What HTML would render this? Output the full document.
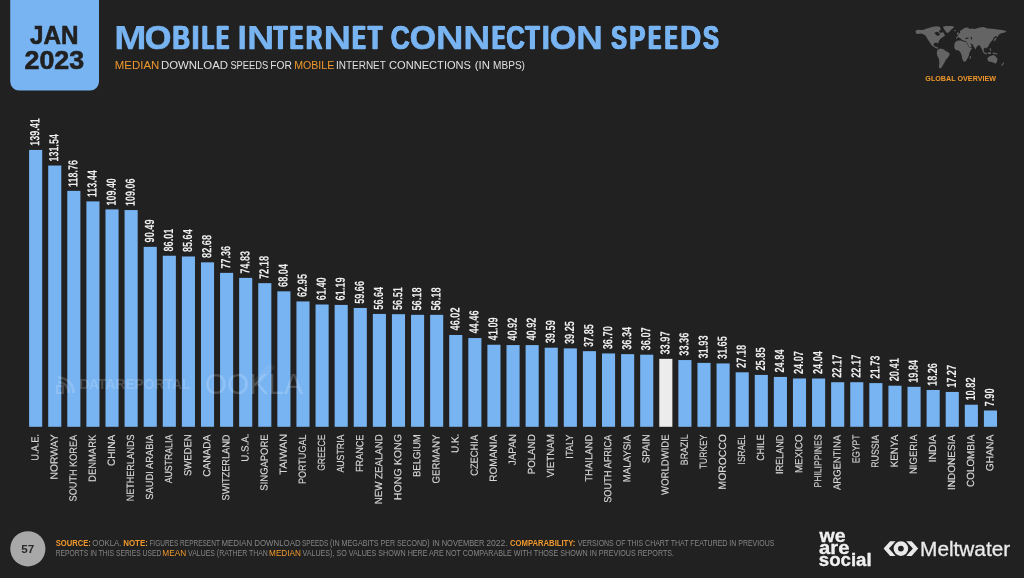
<!DOCTYPE html>
<html><head><meta charset="utf-8"><title>Mobile Internet Connection Speeds</title>
<style>
html,body{margin:0;padding:0;}
body{width:1024px;height:578px;background:#212121;overflow:hidden;position:relative;font-family:"Liberation Sans",sans-serif;}
#root{position:absolute;left:0;top:0;width:1024px;height:578px;will-change:transform;}
.a{position:absolute;white-space:nowrap;line-height:1;transform-origin:0 0;}
.bar{position:absolute;background:#78b4f2;width:13.1px;}
.r{position:absolute;left:0;top:0;width:0;height:0;transform-origin:0 0;}
.r span{position:absolute;white-space:nowrap;line-height:1;top:0;}
.lab span{right:0;transform-origin:100% 50%;color:#d8d8d8;font-size:10.3px;-webkit-text-stroke:0.15px #d8d8d8;}
.val span{left:0;transform-origin:0 50%;color:#f0f0f0;font-size:13.3px;font-weight:bold;}
</style></head><body><div id="root">
<svg class="a" style="left:0;top:0" width="1024" height="578" viewBox="0 0 1024 578">
<path d="M10.2 0H99V81.6A9 9 0 0 1 90 90.6H19.2A9 9 0 0 1 10.2 81.6Z" fill="#78b4f2"/>
<g fill="#78b4f2">
<rect x="29.10" y="149.94" width="13.1" height="276.86"/>
<rect x="48.20" y="165.53" width="13.1" height="261.27"/>
<rect x="67.29" y="190.85" width="13.1" height="235.95"/>
<rect x="86.39" y="201.39" width="13.1" height="225.41"/>
<rect x="105.48" y="209.40" width="13.1" height="217.40"/>
<rect x="124.58" y="210.07" width="13.1" height="216.73"/>
<rect x="143.68" y="246.86" width="13.1" height="179.94"/>
<rect x="162.77" y="255.74" width="13.1" height="171.06"/>
<rect x="181.87" y="256.47" width="13.1" height="170.33"/>
<rect x="200.96" y="262.34" width="13.1" height="164.46"/>
<rect x="220.06" y="272.88" width="13.1" height="153.92"/>
<rect x="239.16" y="277.89" width="13.1" height="148.91"/>
<rect x="258.25" y="283.14" width="13.1" height="143.66"/>
<rect x="277.35" y="291.34" width="13.1" height="135.46"/>
<rect x="296.44" y="301.43" width="13.1" height="125.37"/>
<rect x="315.54" y="304.50" width="13.1" height="122.30"/>
<rect x="334.64" y="304.91" width="13.1" height="121.89"/>
<rect x="353.73" y="307.95" width="13.1" height="118.85"/>
<rect x="372.83" y="313.93" width="13.1" height="112.87"/>
<rect x="391.92" y="314.19" width="13.1" height="112.61"/>
<rect x="411.02" y="314.84" width="13.1" height="111.96"/>
<rect x="430.12" y="314.84" width="13.1" height="111.96"/>
<rect x="449.21" y="334.97" width="13.1" height="91.83"/>
<rect x="468.31" y="338.06" width="13.1" height="88.74"/>
<rect x="487.40" y="344.74" width="13.1" height="82.06"/>
<rect x="506.50" y="345.08" width="13.1" height="81.72"/>
<rect x="525.60" y="345.08" width="13.1" height="81.72"/>
<rect x="544.69" y="347.71" width="13.1" height="79.09"/>
<rect x="563.79" y="348.38" width="13.1" height="78.42"/>
<rect x="582.88" y="351.16" width="13.1" height="75.64"/>
<rect x="601.98" y="353.44" width="13.1" height="73.36"/>
<rect x="621.08" y="354.15" width="13.1" height="72.65"/>
<rect x="640.17" y="354.68" width="13.1" height="72.12"/>
<rect x="659.27" y="358.85" width="13.1" height="67.95" fill="#ececec"/>
<rect x="678.36" y="360.05" width="13.1" height="66.75"/>
<rect x="697.46" y="362.89" width="13.1" height="63.91"/>
<rect x="716.56" y="363.44" width="13.1" height="63.36"/>
<rect x="735.65" y="372.30" width="13.1" height="54.50"/>
<rect x="754.75" y="374.93" width="13.1" height="51.87"/>
<rect x="773.84" y="376.93" width="13.1" height="49.87"/>
<rect x="792.94" y="378.46" width="13.1" height="48.34"/>
<rect x="812.04" y="378.52" width="13.1" height="48.28"/>
<rect x="831.13" y="382.22" width="13.1" height="44.58"/>
<rect x="850.23" y="382.22" width="13.1" height="44.58"/>
<rect x="869.32" y="383.10" width="13.1" height="43.70"/>
<rect x="888.42" y="385.71" width="13.1" height="41.09"/>
<rect x="907.52" y="386.84" width="13.1" height="39.96"/>
<rect x="926.61" y="389.97" width="13.1" height="36.83"/>
<rect x="945.71" y="391.93" width="13.1" height="34.87"/>
<rect x="964.80" y="404.71" width="13.1" height="22.09"/>
<rect x="983.90" y="410.50" width="13.1" height="16.30"/>
</g>
<circle cx="27.85" cy="548.8" r="17.6" fill="#a8a8a8"/>
</svg>
<svg class="a" style="left:55.5px;top:376.3px;opacity:0.17" width="19" height="19" viewBox="0 0 19 19"><path d="M2 6 A11 11 0 0 1 13 17" fill="none" stroke="#fff" stroke-width="2.6"/><path d="M2 1.5 A15.5 15.5 0 0 1 17.5 17" fill="none" stroke="#fff" stroke-width="2.6"/><rect x="1" y="10" width="6" height="7" fill="none" stroke="#fff" stroke-width="2"/></svg>
<svg class="a" style="left:880px;top:538px" width="42" height="22" viewBox="-21 -11 42 22"><g transform="translate(-0.1,-0.4)" fill="#e9e9e9">
<polygon points="-17.3,0 -10.8,-7.45 -5.3,-7.45 -12.0,0 -5.3,7.45 -10.8,7.45"/>
<polygon points="17.3,0 10.8,-7.45 5.3,-7.45 12.0,0 5.3,7.45 10.8,7.45"/>
<circle r="8.6" fill="#212121"/>
<circle r="5.1" stroke-width="4.4" fill="none" stroke="#e9e9e9"/>
</g></svg>
<svg class="a" style="left:910px;top:20px" width="102" height="54" viewBox="0 0 102 54"><g fill="#646464"><polygon points="5.5,11.0 7.5,9.8 12.9,10.0 16.9,8.5 21.9,7.0 25.9,6.2 29.9,6.8 31.9,9.0 29.9,10.0 28.9,11.5 30.9,12.9 32.9,12.0 34.4,13.9 34.9,15.9 32.9,16.9 30.9,18.4 29.4,19.9 28.4,22.4 27.4,23.4 26.4,22.4 24.4,22.9 23.4,24.4 24.9,26.4 26.9,26.9 28.4,27.9 27.4,28.7 25.4,27.9 23.4,26.4 21.4,24.9 19.9,22.4 18.4,20.4 16.9,17.9 15.9,15.9 13.9,14.4 11.0,13.4 8.0,13.9 6.0,13.4"/><polygon points="32.9,6.8 35.9,6.0 41.8,6.0 44.3,6.8 42.8,8.5 40.8,10.0 38.8,12.5 36.9,12.9 35.4,11.0 33.9,9.0"/><polygon points="27.4,29.9 29.9,28.4 32.9,28.9 35.9,30.9 39.3,32.9 39.6,34.9 37.8,37.8 35.9,39.8 34.4,42.8 32.9,45.3 31.4,47.8 29.9,48.8 28.9,46.8 29.4,42.8 28.9,38.8 27.4,35.9 26.7,32.9"/><polygon points="46.0,18.9 46.3,16.9 47.8,15.9 48.8,13.9 50.3,12.5 49.8,11.0 51.8,10.0 54.3,8.0 57.8,7.5 59.8,9.0 61.8,8.5 64.7,9.0 69.7,7.5 73.7,7.0 77.7,8.5 82.7,8.8 87.6,9.5 92.6,10.0 96.6,11.2 94.6,12.5 90.6,13.4 88.6,14.9 87.6,16.9 85.7,15.9 83.7,17.4 82.7,19.9 81.2,21.4 79.7,23.4 78.2,26.4 76.2,28.4 74.7,27.4 73.5,29.4 74.5,33.4 73.2,32.4 71.7,28.9 70.2,26.1 68.7,24.9 66.9,26.4 65.5,29.4 63.7,26.4 62.3,23.9 59.8,23.4 61.8,25.4 60.6,27.7 58.8,26.4 57.3,22.9 56.3,21.4 53.8,20.4 51.8,19.9 50.8,18.4 49.3,17.9 48.8,16.9 47.8,17.4"/><polygon points="44.3,24.4 45.3,21.9 47.8,20.4 50.8,20.4 53.3,21.4 56.3,21.9 57.8,24.9 59.3,27.4 62.3,27.9 60.8,29.9 59.3,32.9 58.8,35.9 57.3,38.8 55.8,41.3 53.8,41.8 52.3,39.3 51.8,35.9 50.8,32.9 48.8,30.4 45.8,29.9 44.3,27.9"/><polygon points="59.8,36.4 61.0,35.9 60.8,38.3 59.6,39.3"/><polygon points="77.2,38.3 79.2,36.4 81.7,35.4 83.7,34.9 85.7,36.4 87.5,38.8 87.2,41.3 85.7,43.8 83.7,42.8 80.7,41.8 78.2,41.6"/><polygon points="91.1,45.3 93.6,42.3 94.1,43.3 92.1,46.0"/><polygon points="74.2,31.9 77.2,33.4 76.7,34.4 74.2,33.4"/><polygon points="77.7,32.4 80.7,31.9 80.9,33.9 78.2,34.1"/><polygon points="82.7,32.4 87.6,33.4 87.2,34.4 82.7,33.7"/><polygon points="79.7,27.9 80.9,28.4 81.2,30.9 80.0,30.4"/><polygon points="84.2,18.9 85.7,17.4 86.7,17.9 85.2,20.4 83.7,21.4"/><polygon points="46.8,12.9 48.3,12.0 48.8,14.4 47.3,14.9"/><polygon points="43.8,10.5 45.8,10.0 46.0,11.0 44.3,11.3"/></g><g fill="#212121"><polygon points="24.4,12.7 26.9,11.8 29.4,12.7 29.7,14.9 27.9,15.9 26.1,14.9"/><polygon points="55.1,17.9 58.3,17.5 58.6,18.7 55.4,18.9"/><polygon points="60.8,16.7 62.0,16.9 62.1,19.4 61.0,19.5"/><polygon points="29.9,7.2 32.4,7.0 32.9,9.5 31.1,10.0"/></g></svg>
<svg class="a" style="left:250px;top:360px;opacity:0.15" width="30" height="30" viewBox="250 360 30 30"><g stroke="#fff" stroke-width="0.9" fill="none"><path d="M253.5 381.5L270 364M253.5 384L272 364.5M253.5 386.5L273.5 365.5M255.5 387L274.5 367"/></g></svg>
<div class="a" style="left:0;top:0;font-size:25.3px;font-weight:bold;color:#212121;transform:translate(30.06px,23.00px) rotate(0deg) scaleX(0.9571);-webkit-text-stroke:0.6px #212121;">JAN</div>
<div class="a" style="left:0;top:0;font-size:25.3px;font-weight:bold;color:#212121;transform:translate(24.51px,48.00px) rotate(0deg) scaleX(1.0600);-webkit-text-stroke:0.6px #212121;">2023</div>
<div class="a" style="left:0;top:0;font-size:33.6px;font-weight:bold;color:#78b4f2;transform:translate(114.28px,21.00px) rotate(0deg) scaleX(1.1549);-webkit-text-stroke:0.25px #78b4f2;">M</div>
<div class="a" style="left:0;top:0;font-size:33.6px;font-weight:bold;color:#78b4f2;transform:translate(144.66px,21.00px) rotate(0deg) scaleX(1.0191);-webkit-text-stroke:0.7px #78b4f2;">O</div>
<div class="a" style="left:0;top:0;font-size:33.6px;font-weight:bold;color:#78b4f2;transform:translate(172.71px,21.00px) rotate(0deg) scaleX(0.7082);-webkit-text-stroke:0.7px #78b4f2;text-shadow:1.22px 0 0 #78b4f2,-1.22px 0 0 #78b4f2;">B</div>
<div class="a" style="left:0;top:0;font-size:33.6px;font-weight:bold;color:#78b4f2;transform:translate(190.98px,21.00px) rotate(0deg) scaleX(0.9709);-webkit-text-stroke:0.7px #78b4f2;">I</div>
<div class="a" style="left:0;top:0;font-size:33.6px;font-weight:bold;color:#78b4f2;transform:translate(202.20px,21.00px) rotate(0deg) scaleX(0.5664);-webkit-text-stroke:0.7px #78b4f2;text-shadow:1.93px 0 0 #78b4f2,-1.93px 0 0 #78b4f2;">L</div>
<div class="a" style="left:0;top:0;font-size:33.6px;font-weight:bold;color:#78b4f2;transform:translate(216.65px,21.00px) rotate(0deg) scaleX(0.5400);-webkit-text-stroke:0.7px #78b4f2;text-shadow:2.20px 0 0 #78b4f2,-2.20px 0 0 #78b4f2;">E</div>
<div class="a" style="left:0;top:0;font-size:33.6px;font-weight:bold;color:#78b4f2;transform:translate(237.85px,21.00px) rotate(0deg) scaleX(0.9493);-webkit-text-stroke:0.7px #78b4f2;">I</div>
<div class="a" style="left:0;top:0;font-size:33.6px;font-weight:bold;color:#78b4f2;transform:translate(246.88px,21.00px) rotate(0deg) scaleX(1.1307);-webkit-text-stroke:0.25px #78b4f2;">N</div>
<div class="a" style="left:0;top:0;font-size:33.6px;font-weight:bold;color:#78b4f2;transform:translate(273.75px,21.00px) rotate(0deg) scaleX(0.6541);-webkit-text-stroke:0.7px #78b4f2;text-shadow:1.37px 0 0 #78b4f2,-1.37px 0 0 #78b4f2;">T</div>
<div class="a" style="left:0;top:0;font-size:33.6px;font-weight:bold;color:#78b4f2;transform:translate(290.24px,21.00px) rotate(0deg) scaleX(0.5590);-webkit-text-stroke:0.7px #78b4f2;text-shadow:2.20px 0 0 #78b4f2,-2.20px 0 0 #78b4f2;">E</div>
<div class="a" style="left:0;top:0;font-size:33.6px;font-weight:bold;color:#78b4f2;transform:translate(306.05px,21.00px) rotate(0deg) scaleX(0.6604);-webkit-text-stroke:0.7px #78b4f2;text-shadow:1.38px 0 0 #78b4f2,-1.38px 0 0 #78b4f2;">R</div>
<div class="a" style="left:0;top:0;font-size:33.6px;font-weight:bold;color:#78b4f2;transform:translate(323.39px,21.00px) rotate(0deg) scaleX(1.1394);-webkit-text-stroke:0.25px #78b4f2;">N</div>
<div class="a" style="left:0;top:0;font-size:33.6px;font-weight:bold;color:#78b4f2;transform:translate(352.68px,21.00px) rotate(0deg) scaleX(0.5592);-webkit-text-stroke:0.7px #78b4f2;text-shadow:2.20px 0 0 #78b4f2,-2.20px 0 0 #78b4f2;">E</div>
<div class="a" style="left:0;top:0;font-size:33.6px;font-weight:bold;color:#78b4f2;transform:translate(367.97px,21.00px) rotate(0deg) scaleX(0.6877);-webkit-text-stroke:0.7px #78b4f2;text-shadow:1.33px 0 0 #78b4f2,-1.33px 0 0 #78b4f2;">T</div>
<div class="a" style="left:0;top:0;font-size:33.6px;font-weight:bold;color:#78b4f2;transform:translate(390.82px,21.00px) rotate(0deg) scaleX(0.7812);-webkit-text-stroke:0.7px #78b4f2;text-shadow:0.62px 0 0 #78b4f2,-0.62px 0 0 #78b4f2;">C</div>
<div class="a" style="left:0;top:0;font-size:33.6px;font-weight:bold;color:#78b4f2;transform:translate(409.77px,21.00px) rotate(0deg) scaleX(1.0043);-webkit-text-stroke:0.7px #78b4f2;">O</div>
<div class="a" style="left:0;top:0;font-size:33.6px;font-weight:bold;color:#78b4f2;transform:translate(435.83px,21.00px) rotate(0deg) scaleX(1.1472);-webkit-text-stroke:0.25px #78b4f2;">N</div>
<div class="a" style="left:0;top:0;font-size:33.6px;font-weight:bold;color:#78b4f2;transform:translate(463.13px,21.00px) rotate(0deg) scaleX(1.1203);-webkit-text-stroke:0.25px #78b4f2;">N</div>
<div class="a" style="left:0;top:0;font-size:33.6px;font-weight:bold;color:#78b4f2;transform:translate(492.56px,21.00px) rotate(0deg) scaleX(0.5500);-webkit-text-stroke:0.7px #78b4f2;text-shadow:2.20px 0 0 #78b4f2,-2.20px 0 0 #78b4f2;">E</div>
<div class="a" style="left:0;top:0;font-size:33.6px;font-weight:bold;color:#78b4f2;transform:translate(506.28px,21.00px) rotate(0deg) scaleX(0.7667);-webkit-text-stroke:0.7px #78b4f2;text-shadow:0.63px 0 0 #78b4f2,-0.63px 0 0 #78b4f2;">C</div>
<div class="a" style="left:0;top:0;font-size:33.6px;font-weight:bold;color:#78b4f2;transform:translate(525.39px,21.00px) rotate(0deg) scaleX(0.6878);-webkit-text-stroke:0.7px #78b4f2;text-shadow:1.34px 0 0 #78b4f2,-1.34px 0 0 #78b4f2;">T</div>
<div class="a" style="left:0;top:0;font-size:33.6px;font-weight:bold;color:#78b4f2;transform:translate(541.62px,21.00px) rotate(0deg) scaleX(0.9230);-webkit-text-stroke:0.7px #78b4f2;">I</div>
<div class="a" style="left:0;top:0;font-size:33.6px;font-weight:bold;color:#78b4f2;transform:translate(549.66px,21.00px) rotate(0deg) scaleX(1.0191);-webkit-text-stroke:0.7px #78b4f2;">O</div>
<div class="a" style="left:0;top:0;font-size:33.6px;font-weight:bold;color:#78b4f2;transform:translate(576.11px,21.00px) rotate(0deg) scaleX(1.1156);-webkit-text-stroke:0.25px #78b4f2;">N</div>
<div class="a" style="left:0;top:0;font-size:33.6px;font-weight:bold;color:#78b4f2;transform:translate(611.33px,21.00px) rotate(0deg) scaleX(0.6886);-webkit-text-stroke:0.7px #78b4f2;text-shadow:1.18px 0 0 #78b4f2,-1.18px 0 0 #78b4f2;">S</div>
<div class="a" style="left:0;top:0;font-size:33.6px;font-weight:bold;color:#78b4f2;transform:translate(629.51px,21.00px) rotate(0deg) scaleX(0.6912);-webkit-text-stroke:0.7px #78b4f2;text-shadow:1.28px 0 0 #78b4f2,-1.28px 0 0 #78b4f2;">P</div>
<div class="a" style="left:0;top:0;font-size:33.6px;font-weight:bold;color:#78b4f2;transform:translate(648.65px,21.00px) rotate(0deg) scaleX(0.5400);-webkit-text-stroke:0.7px #78b4f2;text-shadow:2.20px 0 0 #78b4f2,-2.20px 0 0 #78b4f2;">E</div>
<div class="a" style="left:0;top:0;font-size:33.6px;font-weight:bold;color:#78b4f2;transform:translate(665.18px,21.00px) rotate(0deg) scaleX(0.5370);-webkit-text-stroke:0.7px #78b4f2;text-shadow:2.20px 0 0 #78b4f2,-2.20px 0 0 #78b4f2;">E</div>
<div class="a" style="left:0;top:0;font-size:33.6px;font-weight:bold;color:#78b4f2;transform:translate(680.03px,21.00px) rotate(0deg) scaleX(0.8800);-webkit-text-stroke:0.7px #78b4f2;text-shadow:0.38px 0 0 #78b4f2,-0.38px 0 0 #78b4f2;">D</div>
<div class="a" style="left:0;top:0;font-size:33.6px;font-weight:bold;color:#78b4f2;transform:translate(703.18px,21.00px) rotate(0deg) scaleX(0.6941);-webkit-text-stroke:0.7px #78b4f2;text-shadow:1.18px 0 0 #78b4f2,-1.18px 0 0 #78b4f2;">S</div>
<div class="a" style="left:0;top:0;font-size:11.8px;color:#f0982c;transform:translate(114.83px,60.00px) rotate(0deg) scaleX(0.9680);">MEDIAN</div>
<div class="a" style="left:0;top:0;font-size:11.8px;color:#e0e0e0;transform:translate(160.92px,60.00px) rotate(0deg) scaleX(0.9662);">DOWNLOAD</div>
<div class="a" style="left:0;top:0;font-size:11.8px;color:#e0e0e0;transform:translate(230.38px,60.00px) rotate(0deg) scaleX(0.7932);">SPEEDS</div>
<div class="a" style="left:0;top:0;font-size:11.8px;color:#e0e0e0;transform:translate(270.25px,60.00px) rotate(0deg) scaleX(0.8658);">FOR</div>
<div class="a" style="left:0;top:0;font-size:11.8px;color:#f0982c;transform:translate(294.13px,60.00px) rotate(0deg) scaleX(0.9017);">MOBILE</div>
<div class="a" style="left:0;top:0;font-size:11.8px;color:#e0e0e0;transform:translate(335.98px,60.00px) rotate(0deg) scaleX(0.8453);">INTERNET</div>
<div class="a" style="left:0;top:0;font-size:11.8px;color:#e0e0e0;transform:translate(389.09px,60.00px) rotate(0deg) scaleX(0.9394);">CONNECTIONS</div>
<div class="a" style="left:0;top:0;font-size:11.8px;color:#e0e0e0;transform:translate(474.81px,60.00px) rotate(0deg) scaleX(0.9642);">(IN</div>
<div class="a" style="left:0;top:0;font-size:11.8px;color:#e0e0e0;transform:translate(493.08px,60.00px) rotate(0deg) scaleX(0.8535);">MBPS)</div>
<div class="a" style="left:0;top:0;font-size:8.5px;font-weight:bold;color:#f0982c;transform:translate(55.68px,539.00px) rotate(0deg) scaleX(0.8965);">SOURCE:</div>
<div class="a" style="left:0;top:0;font-size:8.5px;color:#868686;transform:translate(92.34px,539.00px) rotate(0deg) scaleX(0.9183);">OOKLA.</div>
<div class="a" style="left:0;top:0;font-size:8.5px;font-weight:bold;color:#f0982c;transform:translate(123.25px,539.00px) rotate(0deg) scaleX(0.9296);">NOTE:</div>
<div class="a" style="left:0;top:0;font-size:8.5px;color:#868686;transform:translate(149.38px,539.00px) rotate(0deg) scaleX(0.7653);">FIGURES REPRESENT</div>
<div class="a" style="left:0;top:0;font-size:8.5px;color:#868686;transform:translate(221.51px,539.00px) rotate(0deg) scaleX(0.9255);">MEDIAN DOWNLOAD</div>
<div class="a" style="left:0;top:0;font-size:8.5px;color:#868686;transform:translate(302.06px,539.00px) rotate(0deg) scaleX(0.7601);">SPEEDS</div>
<div class="a" style="left:0;top:0;font-size:8.5px;color:#868686;transform:translate(330.00px,539.00px) rotate(0deg) scaleX(0.8444);">(IN MEGABITS</div>
<div class="a" style="left:0;top:0;font-size:8.5px;color:#868686;transform:translate(380.59px,539.00px) rotate(0deg) scaleX(0.8292);">PER SECOND)</div>
<div class="a" style="left:0;top:0;font-size:8.5px;color:#868686;transform:translate(432.13px,539.00px) rotate(0deg) scaleX(0.8803);">IN NOVEMBER</div>
<div class="a" style="left:0;top:0;font-size:8.5px;color:#868686;transform:translate(486.16px,539.00px) rotate(0deg) scaleX(1.0198);">2022.</div>
<div class="a" style="left:0;top:0;font-size:8.5px;font-weight:bold;color:#f0982c;transform:translate(509.97px,539.00px) rotate(0deg) scaleX(0.9037);">COMPARABILITY:</div>
<div class="a" style="left:0;top:0;font-size:8.5px;color:#868686;transform:translate(577.66px,539.00px) rotate(0deg) scaleX(0.8220);">VERSIONS OF THIS CHART THAT FEATURED IN PREVIOUS</div>
<div class="a" style="left:0;top:0;font-size:8.5px;color:#868686;transform:translate(55.72px,549.00px) rotate(0deg) scaleX(0.7948);">REPORTS IN THIS SERIES USED</div>
<div class="a" style="left:0;top:0;font-size:8.5px;color:#f0982c;transform:translate(162.30px,549.00px) rotate(0deg) scaleX(0.9730);">MEAN</div>
<div class="a" style="left:0;top:0;font-size:8.5px;color:#868686;transform:translate(188.11px,549.00px) rotate(0deg) scaleX(0.8153);">VALUES (RATHER THAN</div>
<div class="a" style="left:0;top:0;font-size:8.5px;color:#f0982c;transform:translate(269.11px,549.00px) rotate(0deg) scaleX(0.9594);">MEDIAN</div>
<div class="a" style="left:0;top:0;font-size:8.5px;color:#868686;transform:translate(302.47px,549.00px) rotate(0deg) scaleX(0.8396);">VALUES), SO VALUES SHOWN HERE ARE NOT COMPARABLE WITH THOSE SHOWN IN PREVIOUS REPORTS.</div>
<div class="a" style="left:0;top:0;font-size:11.3px;font-weight:bold;color:#2a2a2a;transform:translate(21.33px,544.00px) rotate(0deg) scaleX(1.0339);">57</div>
<div class="a" style="left:0;top:0;font-size:19.1px;font-weight:bold;color:#f0f0f0;transform:translate(819.52px,526.00px) rotate(0deg) scaleX(1.0221);-webkit-text-stroke:0.35px #f0f0f0;">we</div>
<div class="a" style="left:0;top:0;font-size:19.1px;font-weight:bold;color:#f0f0f0;transform:translate(818.99px,538.00px) rotate(0deg) scaleX(1.0604);-webkit-text-stroke:0.35px #f0f0f0;">are</div>
<div class="a" style="left:0;top:0;font-size:19.1px;font-weight:bold;color:#f0f0f0;transform:translate(818.76px,550.00px) rotate(0deg) scaleX(0.9767);-webkit-text-stroke:0.35px #f0f0f0;">social</div>
<div class="a" style="left:0;top:0;font-size:20.6px;color:#ebebeb;transform:translate(920.07px,539.00px) rotate(0deg) scaleX(1.0093);-webkit-text-stroke:0.3px #ebebeb;">Meltwater</div>
<div class="a" style="left:0;top:0;font-size:15.2px;font-weight:bold;color:#ffffff;transform:translate(79.15px,376.00px) rotate(0deg) scaleX(0.9089);opacity:0.17;">DATAREPORTAL</div>
<div class="a" style="left:0;top:0;font-size:29.5px;color:#ffffff;transform:translate(204.77px,369.00px) rotate(0deg) scaleX(0.9670);opacity:0.18;">OOKLA</div>
<div class="a" style="left:0;top:0;font-size:7.8px;font-weight:bold;color:#f0982c;transform:translate(925.29px,75.00px) rotate(0deg) scaleX(0.9211);">GLOBAL OVERVIEW</div>
<div class="r lab" style="transform:translate(35.63px,433.63px) rotate(-89.9deg);"><span style="transform:translateY(-50%) scaleX(0.9045);">U.A.E.</span></div>
<div class="r val" style="transform:translate(34.99px,145.84px) rotate(-89.9deg);"><span style="transform:translateY(-50%) scaleX(0.6754);">139.41</span></div>
<div class="r lab" style="transform:translate(54.81px,434.46px) rotate(-89.9deg);"><span style="transform:translateY(-50%) scaleX(1.0020);">NORWAY</span></div>
<div class="r val" style="transform:translate(54.00px,161.43px) rotate(-89.9deg);"><span style="transform:translateY(-50%) scaleX(0.6708);">131.54</span></div>
<div class="r lab" style="transform:translate(73.85px,434.89px) rotate(-89.9deg);"><span style="transform:translateY(-50%) scaleX(0.8864);">SOUTH KOREA</span></div>
<div class="r val" style="transform:translate(73.20px,186.90px) rotate(-89.9deg);"><span style="transform:translateY(-50%) scaleX(0.6705);">118.76</span></div>
<div class="r lab" style="transform:translate(92.96px,435.26px) rotate(-89.9deg);"><span style="transform:translateY(-50%) scaleX(0.9157);">DENMARK</span></div>
<div class="r val" style="transform:translate(92.24px,197.29px) rotate(-89.9deg);"><span style="transform:translateY(-50%) scaleX(0.6789);">113.44</span></div>
<div class="r lab" style="transform:translate(112.07px,434.90px) rotate(-89.9deg);"><span style="transform:translateY(-50%) scaleX(0.9698);">CHINA</span></div>
<div class="r val" style="transform:translate(111.33px,205.44px) rotate(-89.9deg);"><span style="transform:translateY(-50%) scaleX(0.6706);">109.40</span></div>
<div class="r lab" style="transform:translate(131.10px,434.10px) rotate(-89.9deg);"><span style="transform:translateY(-50%) scaleX(0.8713);">NETHERLANDS</span></div>
<div class="r val" style="transform:translate(130.38px,205.99px) rotate(-89.9deg);"><span style="transform:translateY(-50%) scaleX(0.6735);">109.06</span></div>
<div class="r lab" style="transform:translate(150.18px,434.30px) rotate(-89.9deg);"><span style="transform:translateY(-50%) scaleX(0.9076);">SAUDI ARABIA</span></div>
<div class="r val" style="transform:translate(149.65px,242.47px) rotate(-89.9deg);"><span style="transform:translateY(-50%) scaleX(0.6952);">90.49</span></div>
<div class="r lab" style="transform:translate(169.31px,434.96px) rotate(-89.9deg);"><span style="transform:translateY(-50%) scaleX(0.8498);">AUSTRALIA</span></div>
<div class="r val" style="transform:translate(168.67px,251.46px) rotate(-89.9deg);"><span style="transform:translateY(-50%) scaleX(0.6874);">86.01</span></div>
<div class="r lab" style="transform:translate(188.42px,434.43px) rotate(-89.9deg);"><span style="transform:translateY(-50%) scaleX(0.9267);">SWEDEN</span></div>
<div class="r val" style="transform:translate(187.75px,252.07px) rotate(-89.9deg);"><span style="transform:translateY(-50%) scaleX(0.6871);">85.64</span></div>
<div class="r lab" style="transform:translate(207.45px,434.73px) rotate(-89.9deg);"><span style="transform:translateY(-50%) scaleX(0.9773);">CANADA</span></div>
<div class="r val" style="transform:translate(206.96px,257.97px) rotate(-89.9deg);"><span style="transform:translateY(-50%) scaleX(0.6914);">82.68</span></div>
<div class="r lab" style="transform:translate(226.55px,434.33px) rotate(-89.9deg);"><span style="transform:translateY(-50%) scaleX(0.8927);">SWITZERLAND</span></div>
<div class="r val" style="transform:translate(225.86px,268.78px) rotate(-89.9deg);"><span style="transform:translateY(-50%) scaleX(0.6874);">77.36</span></div>
<div class="r lab" style="transform:translate(245.75px,433.31px) rotate(-89.9deg);"><span style="transform:translateY(-50%) scaleX(0.9481);">U.S.A.</span></div>
<div class="r val" style="transform:translate(245.08px,273.79px) rotate(-89.9deg);"><span style="transform:translateY(-50%) scaleX(0.6868);">74.83</span></div>
<div class="r lab" style="transform:translate(264.84px,434.59px) rotate(-89.9deg);"><span style="transform:translateY(-50%) scaleX(0.9190);">SINGAPORE</span></div>
<div class="r val" style="transform:translate(264.12px,279.04px) rotate(-89.9deg);"><span style="transform:translateY(-50%) scaleX(0.6946);">72.18</span></div>
<div class="r lab" style="transform:translate(283.88px,433.84px) rotate(-89.9deg);"><span style="transform:translateY(-50%) scaleX(1.0458);">TAIWAN</span></div>
<div class="r val" style="transform:translate(283.26px,286.98px) rotate(-89.9deg);"><span style="transform:translateY(-50%) scaleX(0.6914);">68.04</span></div>
<div class="r lab" style="transform:translate(303.05px,434.94px) rotate(-89.9deg);"><span style="transform:translateY(-50%) scaleX(0.8792);">PORTUGAL</span></div>
<div class="r val" style="transform:translate(302.27px,296.98px) rotate(-89.9deg);"><span style="transform:translateY(-50%) scaleX(0.6914);">62.95</span></div>
<div class="r lab" style="transform:translate(322.08px,434.96px) rotate(-89.9deg);"><span style="transform:translateY(-50%) scaleX(0.8361);">GREECE</span></div>
<div class="r val" style="transform:translate(321.48px,300.18px) rotate(-89.9deg);"><span style="transform:translateY(-50%) scaleX(0.6877);">61.40</span></div>
<div class="r lab" style="transform:translate(341.11px,434.22px) rotate(-89.9deg);"><span style="transform:translateY(-50%) scaleX(0.8507);">AUSTRIA</span></div>
<div class="r val" style="transform:translate(340.43px,300.56px) rotate(-89.9deg);"><span style="transform:translateY(-50%) scaleX(0.6952);">61.19</span></div>
<div class="r lab" style="transform:translate(360.30px,434.88px) rotate(-89.9deg);"><span style="transform:translateY(-50%) scaleX(0.8851);">FRANCE</span></div>
<div class="r val" style="transform:translate(359.60px,303.85px) rotate(-89.9deg);"><span style="transform:translateY(-50%) scaleX(0.6874);">59.66</span></div>
<div class="r lab" style="transform:translate(379.36px,434.53px) rotate(-89.9deg);"><span style="transform:translateY(-50%) scaleX(0.9438);">NEW ZEALAND</span></div>
<div class="r val" style="transform:translate(378.67px,309.70px) rotate(-89.9deg);"><span style="transform:translateY(-50%) scaleX(0.6874);">56.64</span></div>
<div class="r lab" style="transform:translate(398.51px,434.01px) rotate(-89.9deg);"><span style="transform:translateY(-50%) scaleX(1.0358);">HONG KONG</span></div>
<div class="r val" style="transform:translate(397.76px,309.96px) rotate(-89.9deg);"><span style="transform:translateY(-50%) scaleX(0.6881);">56.51</span></div>
<div class="r lab" style="transform:translate(417.45px,434.55px) rotate(-89.9deg);"><span style="transform:translateY(-50%) scaleX(0.9241);">BELGIUM</span></div>
<div class="r val" style="transform:translate(416.94px,310.60px) rotate(-89.9deg);"><span style="transform:translateY(-50%) scaleX(0.6952);">56.18</span></div>
<div class="r lab" style="transform:translate(436.66px,434.75px) rotate(-89.9deg);"><span style="transform:translateY(-50%) scaleX(0.9363);">GERMANY</span></div>
<div class="r val" style="transform:translate(436.02px,310.60px) rotate(-89.9deg);"><span style="transform:translateY(-50%) scaleX(0.6950);">56.18</span></div>
<div class="r lab" style="transform:translate(455.69px,433.67px) rotate(-89.9deg);"><span style="transform:translateY(-50%) scaleX(0.9624);">U.K.</span></div>
<div class="r val" style="transform:translate(455.03px,330.39px) rotate(-89.9deg);"><span style="transform:translateY(-50%) scaleX(0.6874);">46.02</span></div>
<div class="r lab" style="transform:translate(474.91px,435.08px) rotate(-89.9deg);"><span style="transform:translateY(-50%) scaleX(0.9052);">CZECHIA</span></div>
<div class="r val" style="transform:translate(474.16px,333.59px) rotate(-89.9deg);"><span style="transform:translateY(-50%) scaleX(0.6968);">44.46</span></div>
<div class="r lab" style="transform:translate(493.95px,434.90px) rotate(-89.9deg);"><span style="transform:translateY(-50%) scaleX(0.9780);">ROMANIA</span></div>
<div class="r val" style="transform:translate(493.23px,340.47px) rotate(-89.9deg);"><span style="transform:translateY(-50%) scaleX(0.6954);">41.09</span></div>
<div class="r lab" style="transform:translate(513.04px,434.57px) rotate(-89.9deg);"><span style="transform:translateY(-50%) scaleX(0.9559);">JAPAN</span></div>
<div class="r val" style="transform:translate(512.38px,340.62px) rotate(-89.9deg);"><span style="transform:translateY(-50%) scaleX(0.6879);">40.92</span></div>
<div class="r lab" style="transform:translate(532.22px,434.68px) rotate(-89.9deg);"><span style="transform:translateY(-50%) scaleX(0.9448);">POLAND</span></div>
<div class="r val" style="transform:translate(531.42px,340.49px) rotate(-89.9deg);"><span style="transform:translateY(-50%) scaleX(0.6882);">40.92</span></div>
<div class="r lab" style="transform:translate(551.24px,433.78px) rotate(-89.9deg);"><span style="transform:translateY(-50%) scaleX(0.9512);">VIETNAM</span></div>
<div class="r val" style="transform:translate(550.51px,343.30px) rotate(-89.9deg);"><span style="transform:translateY(-50%) scaleX(0.6957);">39.59</span></div>
<div class="r lab" style="transform:translate(570.23px,434.61px) rotate(-89.9deg);"><span style="transform:translateY(-50%) scaleX(0.8900);">ITALY</span></div>
<div class="r val" style="transform:translate(569.70px,344.07px) rotate(-89.9deg);"><span style="transform:translateY(-50%) scaleX(0.6914);">39.25</span></div>
<div class="r lab" style="transform:translate(589.40px,434.56px) rotate(-89.9deg);"><span style="transform:translateY(-50%) scaleX(0.9249);">THAILAND</span></div>
<div class="r val" style="transform:translate(588.77px,346.99px) rotate(-89.9deg);"><span style="transform:translateY(-50%) scaleX(0.6881);">37.85</span></div>
<div class="r lab" style="transform:translate(608.50px,434.83px) rotate(-89.9deg);"><span style="transform:translateY(-50%) scaleX(0.8943);">SOUTH AFRICA</span></div>
<div class="r val" style="transform:translate(607.85px,349.25px) rotate(-89.9deg);"><span style="transform:translateY(-50%) scaleX(0.6914);">36.70</span></div>
<div class="r lab" style="transform:translate(627.59px,434.53px) rotate(-89.9deg);"><span style="transform:translateY(-50%) scaleX(0.9345);">MALAYSIA</span></div>
<div class="r val" style="transform:translate(626.82px,349.86px) rotate(-89.9deg);"><span style="transform:translateY(-50%) scaleX(0.6952);">36.34</span></div>
<div class="r lab" style="transform:translate(646.78px,434.47px) rotate(-89.9deg);"><span style="transform:translateY(-50%) scaleX(0.9625);">SPAIN</span></div>
<div class="r val" style="transform:translate(645.96px,350.46px) rotate(-89.9deg);"><span style="transform:translateY(-50%) scaleX(0.6950);">36.07</span></div>
<div class="r lab" style="transform:translate(665.79px,434.56px) rotate(-89.9deg);"><span style="transform:translateY(-50%) scaleX(0.9283);">WORLDWIDE</span></div>
<div class="r val" style="transform:translate(665.12px,354.57px) rotate(-89.9deg);"><span style="transform:translateY(-50%) scaleX(0.6961);">33.97</span></div>
<div class="r lab" style="transform:translate(684.92px,434.55px) rotate(-89.9deg);"><span style="transform:translateY(-50%) scaleX(0.8503);">BRAZIL</span></div>
<div class="r val" style="transform:translate(684.19px,355.73px) rotate(-89.9deg);"><span style="transform:translateY(-50%) scaleX(0.6956);">33.36</span></div>
<div class="r lab" style="transform:translate(704.05px,434.35px) rotate(-89.9deg);"><span style="transform:translateY(-50%) scaleX(0.8257);">TURKEY</span></div>
<div class="r val" style="transform:translate(703.28px,358.58px) rotate(-89.9deg);"><span style="transform:translateY(-50%) scaleX(0.6948);">31.93</span></div>
<div class="r lab" style="transform:translate(723.09px,434.12px) rotate(-89.9deg);"><span style="transform:translateY(-50%) scaleX(1.0059);">MOROCCO</span></div>
<div class="r val" style="transform:translate(722.48px,359.16px) rotate(-89.9deg);"><span style="transform:translateY(-50%) scaleX(0.6914);">31.65</span></div>
<div class="r lab" style="transform:translate(742.15px,434.45px) rotate(-89.9deg);"><span style="transform:translateY(-50%) scaleX(0.8082);">ISRAEL</span></div>
<div class="r val" style="transform:translate(741.49px,367.89px) rotate(-89.9deg);"><span style="transform:translateY(-50%) scaleX(0.6914);">27.18</span></div>
<div class="r lab" style="transform:translate(761.12px,434.83px) rotate(-89.9deg);"><span style="transform:translateY(-50%) scaleX(0.8685);">CHILE</span></div>
<div class="r val" style="transform:translate(760.63px,370.60px) rotate(-89.9deg);"><span style="transform:translateY(-50%) scaleX(0.7017);">25.85</span></div>
<div class="r lab" style="transform:translate(780.32px,434.32px) rotate(-89.9deg);"><span style="transform:translateY(-50%) scaleX(0.8822);">IRELAND</span></div>
<div class="r val" style="transform:translate(779.71px,372.60px) rotate(-89.9deg);"><span style="transform:translateY(-50%) scaleX(0.6952);">24.84</span></div>
<div class="r lab" style="transform:translate(799.51px,434.12px) rotate(-89.9deg);"><span style="transform:translateY(-50%) scaleX(0.9481);">MEXICO</span></div>
<div class="r val" style="transform:translate(798.71px,374.08px) rotate(-89.9deg);"><span style="transform:translateY(-50%) scaleX(0.6914);">24.07</span></div>
<div class="r lab" style="transform:translate(818.59px,434.01px) rotate(-89.9deg);"><span style="transform:translateY(-50%) scaleX(0.8349);">PHILIPPINES</span></div>
<div class="r val" style="transform:translate(817.99px,374.01px) rotate(-89.9deg);"><span style="transform:translateY(-50%) scaleX(0.6879);">24.04</span></div>
<div class="r lab" style="transform:translate(837.69px,434.95px) rotate(-89.9deg);"><span style="transform:translateY(-50%) scaleX(0.9172);">ARGENTINA</span></div>
<div class="r val" style="transform:translate(837.01px,377.75px) rotate(-89.9deg);"><span style="transform:translateY(-50%) scaleX(0.6914);">22.17</span></div>
<div class="r lab" style="transform:translate(856.70px,434.45px) rotate(-89.9deg);"><span style="transform:translateY(-50%) scaleX(0.8244);">EGYPT</span></div>
<div class="r val" style="transform:translate(856.09px,377.75px) rotate(-89.9deg);"><span style="transform:translateY(-50%) scaleX(0.6914);">22.17</span></div>
<div class="r lab" style="transform:translate(875.81px,435.31px) rotate(-89.9deg);"><span style="transform:translateY(-50%) scaleX(0.8545);">RUSSIA</span></div>
<div class="r val" style="transform:translate(875.15px,378.71px) rotate(-89.9deg);"><span style="transform:translateY(-50%) scaleX(0.6968);">21.73</span></div>
<div class="r lab" style="transform:translate(895.04px,434.90px) rotate(-89.9deg);"><span style="transform:translateY(-50%) scaleX(0.9530);">KENYA</span></div>
<div class="r val" style="transform:translate(894.30px,381.28px) rotate(-89.9deg);"><span style="transform:translateY(-50%) scaleX(0.6953);">20.41</span></div>
<div class="r lab" style="transform:translate(914.06px,435.02px) rotate(-89.9deg);"><span style="transform:translateY(-50%) scaleX(0.9305);">NIGERIA</span></div>
<div class="r val" style="transform:translate(913.41px,382.74px) rotate(-89.9deg);"><span style="transform:translateY(-50%) scaleX(0.6871);">19.84</span></div>
<div class="r lab" style="transform:translate(933.15px,435.15px) rotate(-89.9deg);"><span style="transform:translateY(-50%) scaleX(1.0100);">INDIA</span></div>
<div class="r val" style="transform:translate(932.51px,385.94px) rotate(-89.9deg);"><span style="transform:translateY(-50%) scaleX(0.6882);">18.26</span></div>
<div class="r lab" style="transform:translate(952.25px,434.46px) rotate(-89.9deg);"><span style="transform:translateY(-50%) scaleX(0.9736);">INDONESIA</span></div>
<div class="r val" style="transform:translate(951.57px,387.83px) rotate(-89.9deg);"><span style="transform:translateY(-50%) scaleX(0.6874);">17.27</span></div>
<div class="r lab" style="transform:translate(971.32px,435.09px) rotate(-89.9deg);"><span style="transform:translateY(-50%) scaleX(0.9600);">COLOMBIA</span></div>
<div class="r val" style="transform:translate(970.74px,400.53px) rotate(-89.9deg);"><span style="transform:translateY(-50%) scaleX(0.6950);">10.82</span></div>
<div class="r lab" style="transform:translate(990.41px,434.30px) rotate(-89.9deg);"><span style="transform:translateY(-50%) scaleX(0.9983);">GHANA</span></div>
<div class="r val" style="transform:translate(989.72px,406.42px) rotate(-89.9deg);"><span style="transform:translateY(-50%) scaleX(0.6930);">7.90</span></div>
</div></body></html>
